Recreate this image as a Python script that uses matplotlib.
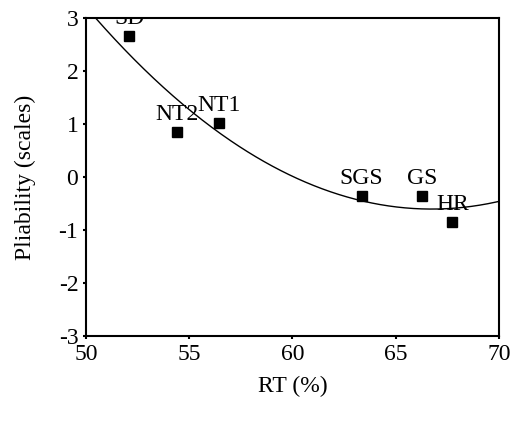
import numpy as np
import matplotlib.pyplot as plt

# Data
labels = ["SD", "NT2", "NT1", "SGS", "GS", "HR"]
rt = [52.1, 54.4, 56.45, 63.35, 66.3, 67.75]
pliability = [2.66, 0.85, 1.02, -0.35, -0.35, -0.85]

xticks = [50, 55, 60, 65, 70]
yticks = [-3, -2, -1, 0, 1, 2, 3]
ytick_labels = ["-3", "-2", "-1", "0", "1", "2", "3"]

# Fitted trend (second order polynomial through the points)
coef = np.polyfit(rt, pliability, 2)
xs = np.linspace(50, 70, 300)
ys = np.polyval(coef, xs)

plt.rcParams['font.family'] = 'Liberation Serif'
plt.rcParams['font.size'] = 17

fig = plt.figure(figsize=(5.18, 4.22), dpi=100)
ax = fig.add_axes([0.166, 0.204, 0.797, 0.753])

ax.plot(xs, ys, color='black', linewidth=1.0, zorder=2)
ax.plot(rt, pliability, linestyle='none', marker='s', markersize=7.5,
        color='black', zorder=3)

for name, x, y in zip(labels, rt, pliability):
    ax.annotate(name, (x, y), xytext=(0, 8.5), textcoords='offset points',
                ha='center', va='baseline', fontsize=17, clip_on=True,
                annotation_clip=True)

ax.set_xlim(50, 70)
ax.set_ylim(-3, 3)
ax.set_xticks(xticks)
ax.set_yticks(yticks)
ax.set_yticklabels(ytick_labels)

for s in ax.spines.values():
    s.set_linewidth(1.5)
ax.tick_params(direction='out', length=2.5, width=1.5, pad=3)

ax.set_xlabel('RT (%)', labelpad=8)
ax.set_ylabel('Pliability (scales)', labelpad=16)

fig.savefig('out.png', dpi=100)
